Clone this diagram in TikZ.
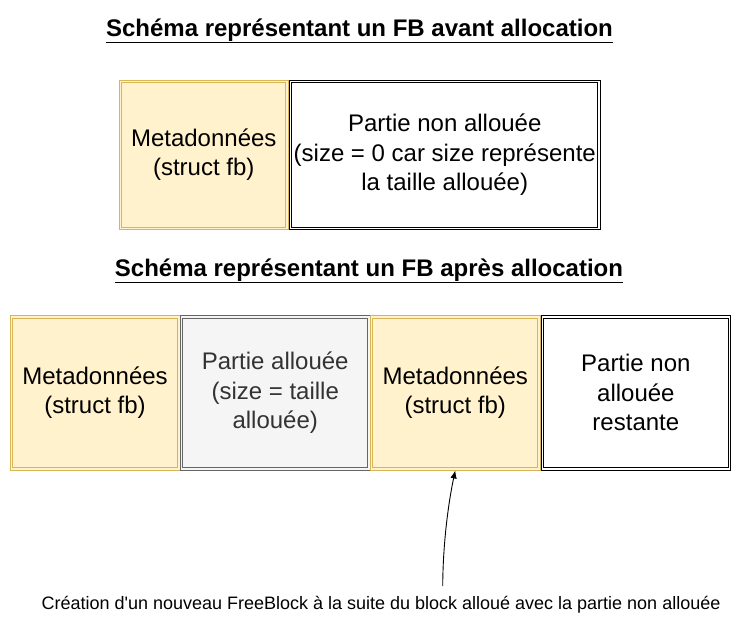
\documentclass[tikz,border=0pt]{standalone}
\usepackage{fontspec}
\setmainfont{Liberation Sans}
\newfontfamily\notefont{Liberation Sans}
\usetikzlibrary{arrows.meta}
\definecolor{metafill}{HTML}{FFF2CC}
\definecolor{metadraw}{HTML}{D6B656}
\definecolor{grayfill}{HTML}{F5F5F5}
\definecolor{graydraw}{HTML}{666666}
\definecolor{graytext}{HTML}{333333}
\tikzset{
  blockbox/.style={rectangle, inner sep=0pt, line width=0.9pt,
    align=center, font=\fontsize{24}{29.5}\selectfont},
  metabox/.style={blockbox, draw=metadraw, fill=metafill, text=black},
  freebox/.style={blockbox, draw=black, fill=white, text=black},
  usedbox/.style={blockbox, draw=graydraw, fill=grayfill, text=graytext},
  innerline/.style={line width=0.9pt},
  titletext/.style={font=\fontsize{24}{29}\selectfont\bfseries, inner sep=0pt},
  notetext/.style={font=\notefont\fontsize{18}{22}\selectfont, inner sep=0pt},
  curvearrow/.style={line width=0.9pt, -{Latex[length=8pt,width=6.5pt]}}
}
\begin{document}
\begin{tikzpicture}[x=1pt,y=1pt]
\useasboundingbox (0,0) rectangle (741,-636);
% titles
\node[titletext] (t1) at (359.5,-31) {\underline{Schéma représentant un FB avant allocation}};
\node[titletext] (t2) at (369,-271) {\underline{Schéma représentant un FB après allocation}};
% before allocation
\node[metabox, minimum width=168.5, minimum height=149.5] (a1) at (203.75,-154.75)
  {Metadonnées\\(struct fb)};
\node[freebox, minimum width=310.5, minimum height=149.5] (a2) at (444.75,-154.75)
  {Partie non allouée\\(size = 0 car size représente\\la taille allouée)};
% after allocation
\node[metabox, minimum width=170, minimum height=154.3] (m1) at (95,-392.85)
  {Metadonnées\\(struct fb)};
\node[usedbox, minimum width=189.5, minimum height=154.3] (u1) at (275.25,-392.85)
  {Partie allouée\\(size = taille\\allouée)};
\node[metabox, minimum width=169.5, minimum height=154.3] (m2) at (455.25,-392.85)
  {Metadonnées\\(struct fb)};
\node[freebox, minimum width=189.7, minimum height=154.3] (f2) at (635.85,-392.85)
  {Partie non\\allouée\\restante};
% inner lines of the double borders
\foreach \n/\c in {a1/metadraw, a2/black, m1/metadraw, u1/graydraw, m2/metadraw, f2/black}{
  \draw[innerline, draw=\c] ([shift={(2.7,2.7)}]\n.south west) rectangle ([shift={(-2.7,-2.7)}]\n.north east);
}
% note and arrow
\node[notetext] (note) at (381,-605) {Création d'un nouveau FreeBlock à la suite du block alloué avec la partie non allouée};
\coordinate (src) at (442.7,-586);
\draw[curvearrow] (src) .. controls (443,-540) and (449,-500) .. (m2.south);
\end{tikzpicture}
\end{document}
